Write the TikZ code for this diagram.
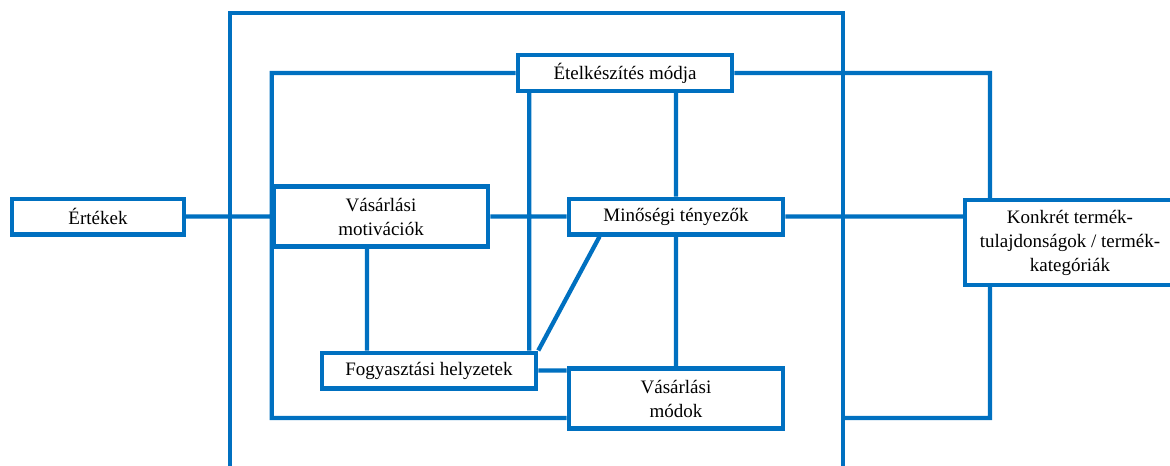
\documentclass[tikz,border=0pt]{standalone}
\usepackage{fontspec}
\setmainfont{Liberation Serif}
\usepackage{tikz}
\definecolor{kek}{RGB}{0,112,192}

\begin{document}
\begin{tikzpicture}[x=0.7pt, y=-0.7pt,
    line width=3pt, draw=kek,
    box/.style={draw=kek, fill=white, align=center, inner sep=0pt,
      minimum width=150pt, minimum height=25pt,
      font=\fontsize{13.3}{16.8}\selectfont},
    tall/.style={box, minimum height=42pt}]
  \useasboundingbox (0,0) rectangle (1170,466);
  \node[box, minimum width=120pt] (ert)  at (98,216.5)  {Értékek};
  \node[tall] (mot)  at (381,216.5) {Vásárlási\\motivációk};
  \node[box]  (etel) at (625,73)    {Ételkészítés módja};
  \node[box]  (min)  at (676,216.5) {Minőségi tényezők};
  \node[box]  (fogy) at (429,370.5) {Fogyasztási helyzetek};
  \node[tall] (mod)  at (676,398.5) {Vásárlási\\módok};
  \node[box, minimum width=147pt, minimum height=59.5pt] (konk) at (1070,242.5)
    {Konkrét termék-\\tulajdonságok / termék-\\kategóriák};

  \coordinate (ftl) at (230,13);
  \coordinate (ftr) at (843,13);
  \coordinate (tl) at (mot.west |- etel.west);
  \coordinate (bl) at (tl |- 0,418);
  \coordinate (tr) at (990,73);
  \coordinate (br) at (tr |- bl);

  \draw[kek] (ftl |- 0,475) -- (ftl) -- (ftr) -- (ftr |- 0,475);
  \draw[kek] (ert) -- (mot)
    (etel.west) -- (tl) -- (bl) -- (bl -| mod.west)
    (mot) -- (min)
    (min.east) -- (min.east -| konk.west)
    (etel.east) -- (tr) -- (tr |- konk.north)
    (tr |- konk.south) -- (br) -- (br -| ftr)
    (min.north |- etel.south) -- (min.north)
    (min.south) -- (mod.north)
    ([xshift=-6.3pt]fogy.north east) -- ([xshift=-6.3pt]fogy.north east |- etel.south)
    ([xshift=23pt]min.south west) -- (fogy.north east)
    ([xshift=-9.8pt]mot.south) -- ([xshift=-9.8pt]mot.south |- fogy.north)
    (fogy.east) -- (fogy.east -| mod.west);
\end{tikzpicture}
\end{document}
